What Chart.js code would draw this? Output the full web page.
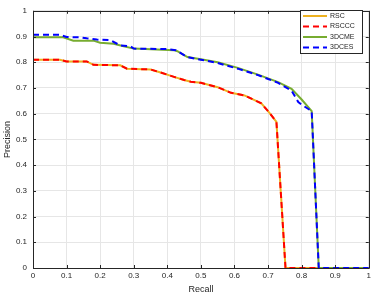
<!DOCTYPE html>
<html>
<head>
<meta charset="utf-8">
<script src="https://cdn.jsdelivr.net/npm/chart.js@4/dist/chart.umd.min.js"></script>
<style>
  html, body { margin: 0; padding: 0; background: #fff; }
  #wrap { width: 374px; height: 295px; }
</style>
</head>
<body>
<div id="wrap"><canvas id="pr"></canvas></div>
<script>
// recall / precision
const rscRecall = [0, 0.08, 0.1, 0.16, 0.18, 0.26, 0.28, 0.35, 0.38, 0.42, 0.45, 0.47, 0.5, 0.55, 0.59, 0.63, 0.68, 0.7, 0.725, 0.752, 1];
const rscPrecision = [0.81, 0.81, 0.803, 0.803, 0.79, 0.788, 0.775, 0.772, 0.76, 0.743, 0.731, 0.724, 0.72, 0.703, 0.681, 0.671, 0.64, 0.61, 0.568, 0, 0];

const cmeRecall = [0, 0.09, 0.12, 0.18, 0.2, 0.24, 0.27, 0.3, 0.42, 0.43, 0.46, 0.5, 0.55, 0.61, 0.67, 0.73, 0.77, 0.8, 0.83, 0.851, 1];
const cmePrecision = [0.897, 0.897, 0.884, 0.884, 0.876, 0.872, 0.862, 0.853, 0.847, 0.843, 0.82, 0.812, 0.8, 0.778, 0.752, 0.723, 0.697, 0.655, 0.61, 0, 0];

const cesRecall = [0, 0.08, 0.1, 0.14, 0.16, 0.19, 0.23, 0.26, 0.29, 0.3, 0.4, 0.425, 0.46, 0.5, 0.55, 0.61, 0.67, 0.73, 0.77, 0.79, 0.8, 0.83, 0.851, 1];
const cesPrecision = [0.907, 0.907, 0.898, 0.897, 0.893, 0.888, 0.886, 0.865, 0.862, 0.853, 0.851, 0.847, 0.82, 0.81, 0.797, 0.775, 0.75, 0.72, 0.69, 0.645, 0.635, 0.61, 0, 0];

const seriesNames = ['RSC', 'RSCCC', '3DCME', '3DCES'];

function pts(xs, ys) {
  return xs.map((x, i) => ({ x: x, y: ys[i] }));
}

const FONT = 'Liberation Sans, Arial, sans-serif';
const TXT = '#262626';
const DASH = [6, 4];

// MATLAB-ish box, inward ticks and the legend
const boxPlugin = {
  id: 'boxPlugin',
  afterDraw(chart) {
    const ctx = chart.ctx;
    const a = chart.chartArea;
    const xs = chart.scales.x, ys = chart.scales.y;
    ctx.save();
    ctx.strokeStyle = '#262626';
    ctx.lineWidth = 1;
    ctx.beginPath();
    ctx.rect(Math.round(a.left) + 0.5, Math.round(a.top) + 0.5, Math.round(a.right - a.left), Math.round(a.bottom - a.top));
    ctx.stroke();
    ctx.beginPath();
    xs.ticks.forEach(t => {
      const p = Math.round(xs.getPixelForValue(t.value)) + 0.5;
      ctx.moveTo(p, a.bottom); ctx.lineTo(p, a.bottom - 3);
      ctx.moveTo(p, a.top); ctx.lineTo(p, a.top + 3);
    });
    ys.ticks.forEach(t => {
      const p = Math.round(ys.getPixelForValue(t.value)) + 0.5;
      ctx.moveTo(a.left, p); ctx.lineTo(a.left + 3, p);
      ctx.moveTo(a.right, p); ctx.lineTo(a.right - 3, p);
    });
    ctx.stroke();

    // legend
    const lx = 300, ly = 10, lw = 62, lh = 43;
    ctx.fillStyle = '#fff';
    ctx.fillRect(lx, ly, lw, lh);
    ctx.strokeStyle = '#262626';
    ctx.strokeRect(lx + 0.5, ly + 0.5, lw, lh);
    ctx.font = '7px ' + FONT;
    ctx.textBaseline = 'middle';
    chart.data.datasets.forEach((ds, i) => {
      const y = ly + 6 + i * 10.5;
      ctx.strokeStyle = ds.borderColor;
      ctx.lineWidth = ds.borderWidth;
      ctx.setLineDash(ds.borderDash || []);
      ctx.beginPath();
      ctx.moveTo(lx + 3, y); ctx.lineTo(lx + 27, y);
      ctx.stroke();
      ctx.setLineDash([]);
      ctx.fillStyle = TXT;
      ctx.fillText(ds.label, lx + 30, y);
    });
    ctx.restore();
  }
};

new Chart(document.getElementById('pr'), {
  type: 'scatter',
  data: {
    datasets: [
      { label: seriesNames[0], data: pts(rscRecall, rscPrecision), borderColor: '#EDB120', borderWidth: 2, order: 4 },
      { label: seriesNames[1], data: pts(rscRecall, rscPrecision), borderColor: '#FF0000', borderWidth: 2, borderDash: DASH, order: 3 },
      { label: seriesNames[2], data: pts(cmeRecall, cmePrecision), borderColor: '#77AC30', borderWidth: 2, order: 2 },
      { label: seriesNames[3], data: pts(cesRecall, cesPrecision), borderColor: '#0000FF', borderWidth: 2, borderDash: DASH, order: 1 }
    ].map(d => Object.assign(d, { showLine: true, pointRadius: 0, fill: false, tension: 0 }))
  },
  options: {
    responsive: true,
    maintainAspectRatio: false,
    animation: false,
    layout: { padding: { top: 3, right: 5, left: 2, bottom: 0 } },
    plugins: { legend: { display: false }, tooltip: { enabled: false } },
    scales: {
      x: {
        type: 'linear', min: 0, max: 1,
        ticks: { stepSize: 0.1, color: TXT, font: { family: FONT, size: 8 }, padding: 3,
          maxRotation: 0, callback: v => Math.round(v * 10) / 10 },
        grid: { color: '#e6e6e6', lineWidth: 1, drawTicks: false },
        border: { display: false },
        title: { display: true, text: 'Recall', color: TXT, font: { family: FONT, size: 9 }, padding: { top: 0, bottom: 0 } },
        afterFit: s => { s.height = 27; }
      },
      y: {
        type: 'linear', min: 0, max: 1,
        ticks: { stepSize: 0.1, color: TXT, font: { family: FONT, size: 8 }, padding: 6,
          callback: v => Math.round(v * 10) / 10 },
        grid: { color: '#e6e6e6', lineWidth: 1, drawTicks: false },
        border: { display: false },
        title: { display: true, text: 'Precision', color: TXT, font: { family: FONT, size: 9 }, padding: { top: 0, bottom: 2 } },
        afterFit: s => { s.width = 31; }
      }
    }
  },
  plugins: [boxPlugin]
});
</script>
</body>
</html>
